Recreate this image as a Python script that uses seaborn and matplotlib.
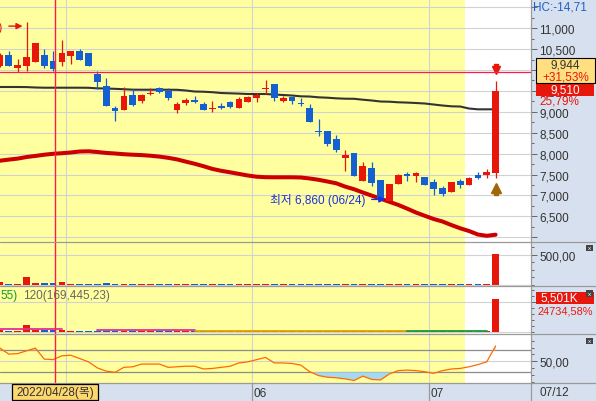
import numpy as np
import matplotlib
matplotlib.use("Agg")
import matplotlib.pyplot as plt
import seaborn as sns
from matplotlib.lines import Line2D
from matplotlib.patches import Rectangle
from matplotlib.ticker import FixedLocator, MultipleLocator, FuncFormatter

# trading days 2022/04/20 .. 2022/07/12
dates = ["04/20", "04/21", "04/22", "04/25", "04/26", "04/27", "04/28", "04/29",
         "05/02", "05/03", "05/04", "05/06", "05/09", "05/10", "05/11", "05/12", "05/13",
         "05/16", "05/17", "05/18", "05/19", "05/20", "05/23", "05/24", "05/25", "05/26",
         "05/27", "05/30", "05/31",
         "06/02", "06/03", "06/07", "06/08", "06/09", "06/10", "06/13", "06/14", "06/15",
         "06/16", "06/17", "06/20", "06/21", "06/22", "06/23", "06/24", "06/27", "06/28",
         "06/29", "06/30",
         "07/01", "07/04", "07/05", "07/06", "07/07", "07/08", "07/11", "07/12"]

opens = [10100, 10360, 10040, 10100, 10200, 10360, 10220, 10200, 10340, 10450, 10410, 9900,
         9610, 9100, 9050, 9400, 9270, 9430, 9560, 9500, 9050, 9220, 9290, 9190, 9070, 9150,
         9235, 9090, 9240, 9330, 9550, 9665, 9270, 9360, 9210, 9090, 8540, 8540, 8350, 7890,
         8015, 7350, 7660, 7370, 6870, 7270, 7495, 7460, 7430, 7330, 7180, 7090, 7350, 7260,
         7490, 7495, 7540]
highs = [10400, 10460, 10260, 11160, 10650, 10500, 10460, 10720, 10450, 10500, 10410, 9980,
         9810, 9150, 9590, 9550, 9420, 9560, 9590, 9560, 9230, 9330, 9390, 9240, 9260, 9210,
         9270, 9350, 9370, 9450, 9760, 9665, 9390, 9360, 9330, 9190, 8830, 8540, 8445, 8090,
         8015, 7790, 7790, 7370, 7270, 7510, 7550, 7570, 7430, 7390, 7230, 7330, 7390, 7440,
         7570, 7630, 9745]
lows = [10080, 10100, 9950, 9980, 10200, 10040, 9980, 10100, 10140, 10250, 10100, 9550,
        9150, 8790, 9050, 9150, 9210, 9410, 9440, 9290, 8970, 9160, 9210, 9040, 8990, 9070,
        9080, 9090, 9240, 9240, 9420, 9265, 9230, 9190, 9130, 8760, 8430, 8190, 8050, 7590,
        7470, 7350, 7230, 6910, 6860, 7270, 7350, 7310, 7260, 7010, 6990, 7090, 7180, 7260,
        7390, 7420, 7420]
closes = [10360, 10100, 10120, 10310, 10650, 10100, 10020, 10410, 10450, 10250, 10100, 9720,
          9150, 9030, 9370, 9160, 9400, 9440, 9480, 9330, 9190, 9290, 9240, 9040, 9085, 9090,
          9110, 9310, 9360, 9410, 9562, 9320, 9320, 9270, 9200, 8760, 8520, 8230, 8090, 7970,
          7470, 7710, 7290, 6910, 7270, 7490, 7480, 7530, 7260, 7150, 7030, 7330, 7260, 7420,
          7420, 7560, 9510]

ma_short = [9594, 9594, 9594, 9592, 9582, 9577, 9577, 9577, 9577, 9577, 9575, 9562, 9558,
            9550, 9541, 9530, 9529, 9529, 9529, 9528, 9527, 9510, 9486, 9481, 9469, 9450,
            9443, 9436, 9426, 9426, 9426, 9414, 9402, 9390, 9371, 9366, 9347, 9338, 9323,
            9314, 9312, 9290, 9271, 9247, 9242, 9228, 9221, 9211, 9199, 9175, 9151, 9132,
            9127, 9079, 9060, 9060, 9060]
ma_long = [7831, 7857, 7881, 7919, 7945, 7974, 7996, 8010, 8027, 8051, 8056, 8039, 8017,
           8003, 7986, 7974, 7965, 7950, 7929, 7900, 7862, 7809, 7757, 7699, 7634, 7589,
           7553, 7515, 7477, 7448, 7436, 7434, 7434, 7434, 7429, 7405, 7374, 7333, 7290,
           7211, 7149, 7070, 6996, 6922, 6847, 6773, 6685, 6592, 6513, 6436, 6376, 6292,
           6214, 6149, 6065, 6034, 6061]

vol_ratio = [50, 15, 15, 133, 33, 33, 33, 50, 15, 15, 15, 15, 33, 15, 15, 15, 15, 15, 15,
             15, 15, 15, 15, 15, 15, 15, 15, 15, 15, 15, 15, 15, 15, 15, 15, 15, 15, 15, 15,
             15, 15, 15, 15, 15, 15, 15, 15, 15, 15, 15, 15, 15, 15, 15, 15, 15, 512]
volume_k = [300, 100, 100, 1100, 200, 200, 200, 300, 90, 90, 90, 90, 120, 90, 90, 90, 90, 90,
            90, 90, 90, 90, 90, 90, 90, 90, 90, 90, 90, 90, 90, 90, 90, 90, 90, 90, 90, 90,
            90, 90, 90, 90, 90, 90, 90, 90, 90, 90, 90, 90, 90, 90, 90, 90, 90, 22, 5501]
nan = np.nan
vol_ma_pink = [470] * 8 + [nan] * 3 + [250] * 12 + [nan] * 34
vol_ma_orange = [nan] * 22 + [130] * 25 + [nan] * 10
vol_ma_green = [nan] * 46 + [130] * 10 + [nan]

rsi = [74, 63, 64, 69, 74, 54, 53, 60, 61, 55, 49, 38, 32, 30, 39, 40, 45, 45, 45, 39, 40,
       41, 41, 36, 37, 39, 41, 47, 49, 53, 57, 47, 47, 46, 43, 31, 24, 21, 20, 18, 15, 23,
       17, 16, 27, 33, 34, 33, 31, 28, 33, 36, 37, 40, 44, 49, 78]

cursor_price = 9944
cursor_pos = 6.25
cursor_label = "2022/04/28(목)"
last_label = "07/12"
hc_label = "HC:-14,71"
vol_change = "24734,58%"
sell_mark = 10000
buy_mark = 7150
selected_end = 52.5

sns.set_style("white")
plt.rcParams["font.family"] = ["Liberation Sans", "Noto Sans CJK KR", "DejaVu Sans"]

RED = "#e8170c"
BLUE = "#1560d0"
YELLOW = "#ffff9f"
GRID = "#d2d2d2"
SEP = "#9a9a9a"
BG = "#d6e0ee"
CROSS = "#ff1a48"
W, H = 596, 402
RIGHT = 531
STEP = 8.85

fig = plt.figure(figsize=(W / 100, H / 100), dpi=100, facecolor=BG)


def rect(y0, y1, x0=0, x1=RIGHT):
    return [x0 / W, 1 - y1 / H, (x1 - x0) / W, (y1 - y0) / H]


def fx(x):
    return x / W


def fy(y):
    return 1 - y / H


n = len(dates)
idx = np.arange(n)
colors = [RED if c >= o else BLUE for o, c in zip(opens, closes)]
month_lines = [i - 0.5 for i in range(1, n) if dates[i][:2] != dates[i - 1][:2]]


def comma_dec(v, p=None):
    return f"{v:.2f}".replace(".", ",")


def setup(ax, ylim):
    ax.set_xlim(0, RIGHT / STEP)
    ax.set_ylim(*ylim)
    ax.set_facecolor("white")
    ax.axvspan(-1, selected_end, color=YELLOW, zorder=0, lw=0)
    for m in month_lines:
        ax.axvline(m, color=GRID, lw=0.8, zorder=0.5)
    ax.yaxis.tick_right()
    ax.tick_params(axis="y", which="major", direction="out", length=4.3, width=0.7,
                   color="#666666", labelsize=8.5, labelcolor="#333333", pad=1.5)
    ax.tick_params(axis="y", which="minor", direction="out", length=2.2, width=0.7,
                   color="#666666")
    ax.set_xticks([])
    ax.set_xlabel("")
    ax.set_ylabel("")
    for s in ax.spines.values():
        s.set_visible(False)


# ---- price panel
ax = fig.add_axes(rect(0, 242.5))
setup(ax, (5898, 11699))
levels = list(range(6000, 11501, 500))
for v in levels:
    ax.axhline(v, color=GRID, lw=0.8, zorder=0.5)
ax.yaxis.set_major_locator(FixedLocator(levels))
ax.yaxis.set_major_formatter(FuncFormatter(
    lambda v, p: "" if v in (6000, 11500) else f"{v:,.0f}"))
ax.yaxis.set_minor_locator(MultipleLocator(250))

sns.lineplot(x=idx, y=ma_long, ax=ax, color="#cc0000", linewidth=2.9, zorder=2)
sns.lineplot(x=idx, y=ma_short, ax=ax, color="#333333", linewidth=1.5, zorder=2)
ax.set_xlabel("")
ax.set_ylabel("")

for i in idx:
    o, h, l, c = opens[i], highs[i], lows[i], closes[i]
    ax.vlines(i, l, h, color=colors[i], lw=0.9, zorder=3)
    body = abs(c - o)
    bottom = min(o, c)
    if body < 28:
        bottom = (o + c) / 2 - 14
        body = 28
    ax.bar(i, body, bottom=bottom, width=0.76, color=colors[i], lw=0, zorder=3)

# highest / lowest labels
hi_i = int(np.argmax(highs))
lo_i = int(np.argmin(lows))
ax.text(hi_i - 2.75, highs[hi_i] - 110, f"최고 {highs[hi_i]:,} ({dates[hi_i]})",
        ha="right", va="center", color=RED, fontsize=8.5, clip_on=True)
ax.annotate("", xy=(hi_i - 0.45, highs[hi_i] - 110), xytext=(hi_i - 2.0, highs[hi_i] - 110),
            arrowprops=dict(arrowstyle="-|>", color=RED, lw=1, mutation_scale=9,
                            shrinkA=0, shrinkB=0), zorder=6)
ax.text(lo_i - 2.75, lows[lo_i] + 45, f"최저 {lows[lo_i]:,} ({dates[lo_i]})",
        ha="right", va="center", color="#1a2fe0", fontsize=8.5, zorder=6)
ax.annotate("", xy=(lo_i - 0.45, lows[lo_i] + 45), xytext=(lo_i - 2.0, lows[lo_i] + 45),
            arrowprops=dict(arrowstyle="-|>", color="#1a2fe0", lw=1, mutation_scale=9,
                            shrinkA=0, shrinkB=0), zorder=6)

# signal markers on last candle
ax.plot(idx[-1], sell_mark + 90, marker="s", ms=3, color=RED, zorder=6)
ax.plot(idx[-1], sell_mark, marker="v", ms=6, color=RED, zorder=6)
ax.plot(idx[-1], buy_mark + 20, marker="^", ms=7, color="#a0660a", zorder=6)
ax.plot(idx[-1], buy_mark - 90, marker="s", ms=3.5, color="#a0660a", zorder=6)

ax.axhline(cursor_price, color=CROSS, lw=0.9, zorder=7)
ax.axvline(cursor_pos, color=CROSS, lw=1.0, zorder=7)

# ---- volume ratio panel
ax1 = fig.add_axes(rect(242.5, 287.3))
setup(ax1, (-27, 720))
for v in (0, 500):
    ax1.axhline(v, color=GRID, lw=0.8, zorder=0.5)
ax1.bar(idx, vol_ratio, width=0.76, color=colors, lw=0, zorder=3)
ax1.yaxis.set_major_locator(FixedLocator([500]))
ax1.yaxis.set_major_formatter(FuncFormatter(comma_dec))
ax1.yaxis.set_minor_locator(MultipleLocator(125))
ax1.axvline(cursor_pos, color=CROSS, lw=1.0, zorder=7)

# ---- volume panel
ax2 = fig.add_axes(rect(287.3, 334.7))
setup(ax2, (-372, 7648))
for v in (0, 5000):
    ax2.axhline(v, color=GRID, lw=0.8, zorder=0.5)
ax2.bar(idx, volume_k, width=0.76, color=colors, lw=0, zorder=3)
ax2.plot(idx, vol_ma_pink, color="#e0309a", lw=1.3, zorder=4)
ax2.plot(idx, vol_ma_orange, color="#e0a000", lw=1.3, zorder=4)
ax2.plot(idx, vol_ma_green, color="#1a9a3a", lw=1.3, zorder=4)
ax2.yaxis.set_major_locator(FixedLocator([5000]))
ax2.yaxis.set_major_formatter(FuncFormatter(lambda v, p: ""))
ax2.yaxis.set_minor_locator(MultipleLocator(1000))
ax2.axvline(cursor_pos, color=CROSS, lw=1.0, zorder=7)

# ---- RSI panel
ax3 = fig.add_axes(rect(334.7, 384))
setup(ax3, (10.5, 100.2))
ax3.axhline(50, color=GRID, lw=0.8, zorder=0.5)
ax3.axhline(70, color="#8c8c8c", lw=0.9, zorder=0.6)
ax3.axhline(30, color="#8c8c8c", lw=0.9, zorder=0.6)
r = np.array(rsi, dtype=float)
ax3.fill_between(idx, r, 30, where=r < 30, interpolate=True, color="#a6d8f0", lw=0, zorder=1)
ax3.fill_between(idx, r, 70, where=r > 70, interpolate=True, color="#f6c09a", lw=0, zorder=1)
sns.lineplot(x=idx, y=rsi, ax=ax3, color="#ff6a00", linewidth=0.9, zorder=3)
ax3.set_xlabel("")
ax3.set_ylabel("")
ax3.yaxis.set_major_locator(FixedLocator([50]))
ax3.yaxis.set_major_formatter(FuncFormatter(comma_dec))
ax3.yaxis.set_minor_locator(MultipleLocator(12.5))
ax3.axvline(cursor_pos, color=CROSS, lw=1.0, zorder=7)

# ---- date row
axd = fig.add_axes(rect(384, 402))
axd.set_xlim(0, RIGHT / STEP)
axd.set_ylim(0, 1)
axd.set_facecolor(BG)
axd.set_xticks([])
axd.set_yticks([])
for s in axd.spines.values():
    s.set_visible(False)
for m in month_lines[1:]:
    axd.axvline(m, color=SEP, lw=0.9)
    axd.text(m + 0.15, 0.45, dates[int(m + 0.5)][:2], ha="left", va="center",
             fontsize=8.5, color="#333333")

# separators
for y in (242.5, 287.3, 334.7, 384):
    fig.add_artist(Line2D([0, 1], [fy(y), fy(y)], color=SEP, lw=0.9))
fig.add_artist(Line2D([fx(RIGHT), fx(RIGHT)], [0, 1], color=SEP, lw=0.9))

# right side labels
fig.text(fx(533), fy(7), hc_label, ha="left", va="center", color="#1f5fc8", fontsize=8.5)

prev = closes[-2]
fig.add_artist(Rectangle((fx(536), fy(97)), (594 - 536) / W, 13 / H,
                         transform=fig.transFigure, facecolor=RED, edgecolor="none"))
fig.text(fx(565), fy(90.5), f"{closes[-1]:,}", ha="center", va="center", color="white",
         fontsize=8.5)
fig.add_artist(Rectangle((fx(536), fy(84)), (595 - 536) / W, 25 / H,
                         transform=fig.transFigure, facecolor="#ffdf80", edgecolor="black",
                         lw=0.8, zorder=4))
fig.text(fx(565.5), fy(65.5), f"{cursor_price:,}", ha="center", va="center",
         color="#333333", fontsize=8.5, zorder=5)
fig.text(fx(565.5), fy(77.5), "+" + comma_dec((cursor_price / prev - 1) * 100) + "%",
         ha="center", va="center", color=RED, fontsize=8.5, zorder=5)
fig.text(fx(539), fy(102), comma_dec((closes[-1] / prev - 1) * 100) + "%", ha="left",
         va="center", color=RED, fontsize=8.5)

fig.add_artist(Rectangle((fx(536), fy(305)), (594 - 536) / W, 12.5 / H,
                         transform=fig.transFigure, facecolor=RED, edgecolor="none"))
fig.text(fx(540), fy(298.8), f"{volume_k[-1]:,}K", ha="left", va="center", color="white",
         fontsize=8.5)
fig.text(fx(537), fy(311.5), vol_change, ha="left", va="center", color=RED, fontsize=7.9)

for y in (245.5, 291, 338.5):
    fig.add_artist(Rectangle((fx(586), fy(y + 6.5)), 7 / W, 6.5 / H,
                             transform=fig.transFigure, facecolor="#444444",
                             edgecolor="none", zorder=6))
    fig.text(fx(589.5), fy(y + 3.3), "x", ha="center", va="center", color="white",
             fontsize=4.5, zorder=7)

fig.text(fx(540), fy(393), last_label, ha="left", va="center", color="#333333", fontsize=8.5)

# legend fragments of volume panel
fig.text(fx(0), fy(296.5), "55)", ha="left", va="center", color="#1a9a2a", fontsize=8.5)
fig.text(fx(23), fy(296.5), "120(169,445,23)", ha="left", va="center", color="#666666",
         fontsize=8.5)

# cursor date box
fig.add_artist(Rectangle((fx(12), fy(401)), 86 / W, 16 / H, transform=fig.transFigure,
                         facecolor="#fdd86e", edgecolor="black", lw=0.9, zorder=4))
fig.text(fx(55), fy(393), cursor_label, ha="center", va="center", color="#333333",
         fontsize=8.5, zorder=5)

fig.savefig("out.png", dpi=100, facecolor=BG)
